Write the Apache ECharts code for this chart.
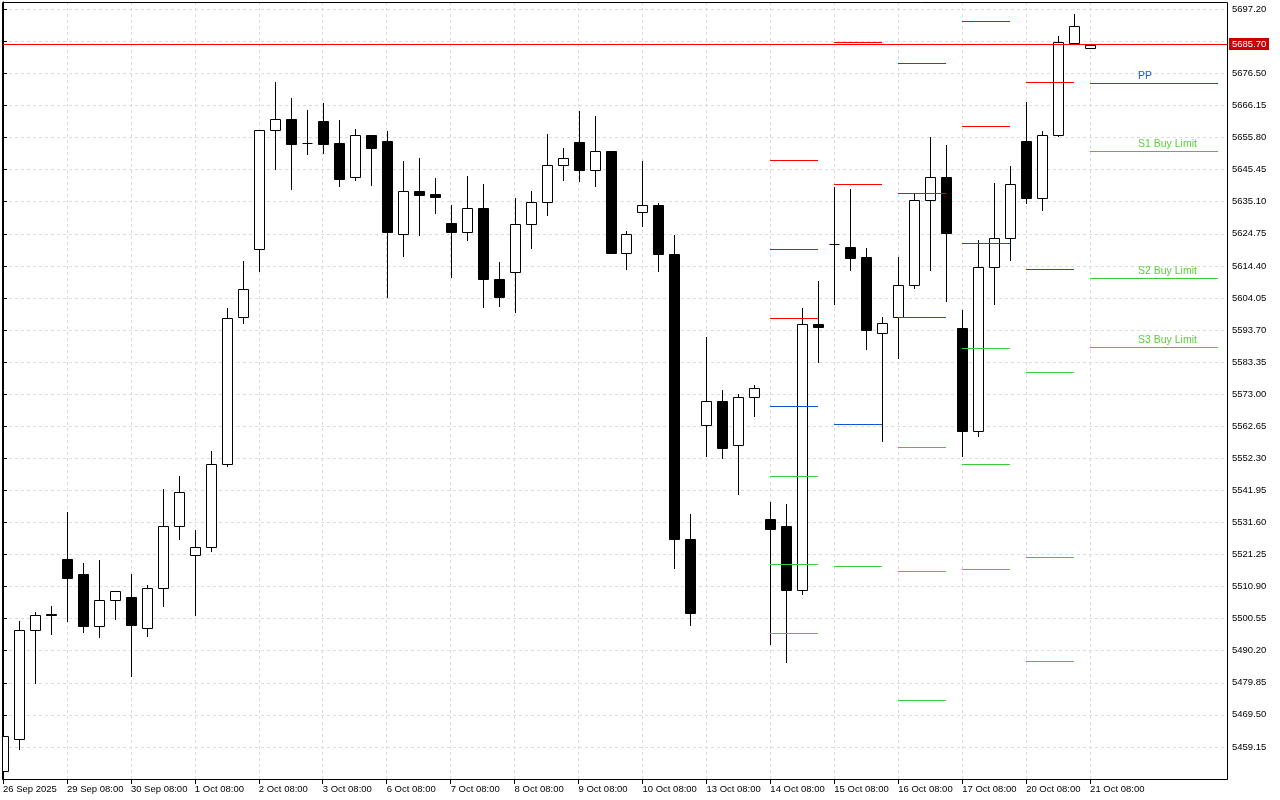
<!DOCTYPE html>
<html>
<head>
<meta charset="utf-8">
<script src="https://cdn.jsdelivr.net/npm/echarts@6.0.0/dist/echarts.min.js"></script>
<style>
html,body{margin:0;padding:0;background:#fff;}
#chart{width:1280px;height:800px;}
</style>
</head>
<body>
<div id="chart"></div>
<script>
// ---- Data ----
// Time labels, one every 4 bars (bar 0, 4, 8 ...)
const xTickLabels = ['26 Sep 2025','29 Sep 08:00','30 Sep 08:00','1 Oct 08:00','2 Oct 08:00','3 Oct 08:00',
  '6 Oct 08:00','7 Oct 08:00','8 Oct 08:00','9 Oct 08:00','10 Oct 08:00','13 Oct 08:00',
  '14 Oct 08:00','15 Oct 08:00','16 Oct 08:00','17 Oct 08:00','20 Oct 08:00','21 Oct 08:00'];
const barsPerLabel = 4;

const opens  = [5451.27,5461.73,5496.94,5502.04,5519.64,5514.80,5498.23,5506.50,5507.69,5497.58,
  5510.50,5530.40,5521.16,5523.74,5550.55,5597.81,5620.00,5658.11,5661.66,5654.01,
  5661.11,5654.01,5642.93,5656.49,5654.65,5624.71,5638.50,5637.44,5628.17,5625.49,
  5633.01,5610.31,5612.50,5627.94,5635.05,5646.96,5654.52,5645.38,5651.62,5618.61,
  5631.85,5634.17,5618.38,5526.36,5563.05,5570.84,5556.59,5572.16,5532.79,5530.53,
  5509.86,5595.54,5621.61,5620.64,5617.19,5592.86,5598.03,5608.37,5635.82,5642.93,
  5594.48,5561.08,5614.18,5623.55,5654.55,5636.34,5656.69,5686.40,5684.60];
const highs  = [5462.80,5499.94,5502.85,5504.78,5534.82,5518.35,5519.32,5509.53,5514.80,5511.47,
  5542.48,5546.45,5529.01,5554.53,5600.71,5615.89,5658.11,5673.61,5668.44,5664.66,
  5666.83,5661.43,5658.43,5656.49,5657.88,5648.19,5649.06,5642.70,5633.98,5643.35,
  5640.76,5615.57,5636.24,5638.41,5657.07,5652.29,5664.50,5662.63,5651.62,5625.71,
  5648.39,5634.85,5624.48,5534.47,5591.51,5574.49,5573.03,5576.04,5538.05,5537.41,
  5600.71,5609.43,5639.79,5639.15,5620.09,5597.81,5617.19,5637.95,5656.04,5653.36,
  5600.29,5622.90,5641.09,5646.58,5667.25,5657.88,5688.57,5695.67,5685.70];
const lows   = [5451.17,5458.50,5479.69,5495.51,5499.94,5496.16,5494.55,5500.36,5482.18,5495.09,
  5504.56,5526.20,5501.88,5522.32,5549.67,5595.87,5612.76,5645.71,5639.05,5650.55,
  5650.87,5640.21,5642.06,5640.44,5604.36,5617.61,5624.39,5631.49,5610.82,5622.68,
  5601.13,5601.46,5599.42,5620.06,5630.72,5642.06,5641.73,5640.05,5618.51,5613.28,
  5627.39,5612.60,5517.03,5498.45,5552.94,5552.49,5540.70,5565.83,5492.41,5486.47,
  5508.56,5583.37,5602.10,5613.08,5587.47,5557.85,5584.56,5607.27,5613.21,5603.07,
  5553.01,5559.47,5602.10,5616.31,5634.72,5632.37,5656.36,5686.40,5684.60];
const closes = [5462.80,5496.94,5501.78,5501.72,5513.60,5498.10,5506.63,5509.53,5498.55,5510.50,
  5530.53,5541.51,5523.74,5550.55,5597.71,5607.08,5658.11,5661.66,5653.78,5654.01,
  5653.78,5642.48,5656.49,5652.49,5625.26,5638.41,5637.31,5636.66,5625.26,5633.01,
  5610.18,5604.36,5628.01,5635.05,5647.06,5649.16,5645.29,5651.52,5618.51,5624.84,
  5634.05,5618.15,5526.13,5502.23,5570.84,5555.49,5572.03,5575.04,5529.43,5509.86,
  5595.54,5594.67,5621.61,5616.96,5593.70,5596.09,5608.37,5635.82,5642.93,5625.03,
  5561.08,5614.18,5623.55,5640.67,5636.34,5656.69,5686.53,5691.80,5685.70];

// Daily pivot levels (first / last bar of each day, null = off the chart)
const pivotStart = [48, 52, 56, 60, 64, 68];
const pivotEnd   = [51, 55, 59, 63, 67, 76];
const levelR3 = [5648.42, null,    null,    null,    null,    null];
const levelR2 = [5620.00, 5686.63, 5679.85, 5693.31, null,    null];
const levelR1 = [5597.71, 5640.67, 5638.08, 5659.40, 5673.71, null];
const levelPP = [5569.29, 5563.47, 5598.03, 5621.93, 5613.54, 5673.29];
const levelS1 = [5546.68, 5517.61, 5556.04, 5588.02, 5580.27, 5651.33];
const levelS2 = [5518.25, null,    5515.99, 5550.55, 5520.29, 5610.63];
const levelS3 = [5495.97, null,    5474.33, 5516.64, 5487.02, 5588.34];
const levelLabels = {PP: 'PP', S1: 'S1 Buy Limit', S2: 'S2 Buy Limit', S3: 'S3 Buy Limit'};

// ---- Styles ----
const RED = '#ff0000', BLUE = '#1450d2', GREEN = '#38cc38';
const FONT = '"Liberation Sans", Arial, sans-serif';
const levelDefs = [
  {name: 'R3', values: levelR3, color: RED,   text: RED},
  {name: 'R2', values: levelR2, color: RED,   text: RED},
  {name: 'R1', values: levelR1, color: RED,   text: RED},
  {name: 'PP', values: levelPP, color: BLUE,  text: '#1f5ce0'},
  {name: 'S1', values: levelS1, color: GREEN, text: '#5ccf3c'},
  {name: 'S2', values: levelS2, color: GREEN, text: '#5ccf3c'},
  {name: 'S3', values: levelS3, color: GREEN, text: '#5ccf3c'}
];
const labelOffsetBars = 3;

const candleData = opens.map((o, i) => [i, o, highs[i], lows[i], closes[i]]);
const pivotData = [];
levelDefs.forEach((d, k) => d.values.forEach((v, j) => {
  if (v != null) pivotData.push([pivotStart[j], pivotEnd[j], v, k, j]);
}));
const lastPrice = closes[closes.length - 1];
const xTickValues = xTickLabels.map((_, k) => k * barsPerLabel);

const chart = echarts.init(document.getElementById('chart'), null, {renderer: 'canvas'});
chart.setOption({
  animation: false,
  backgroundColor: '#fff',
  textStyle: {fontFamily: FONT},
  grid: {left: 2, right: 53, top: 2, bottom: 21, show: false},
  graphic: [{
    type: 'rect', z: 100, silent: true,
    shape: {x: 2.5, y: 2.5, width: 1225, height: 777},
    style: {fill: null, stroke: '#000', lineWidth: 1}
  }],
  xAxis: {
    type: 'value', min: 0, max: 1225 / 16, interval: 2,
    axisLine: {show: true, lineStyle: {color: '#000', width: 1}},
    axisTick: {show: true, customValues: xTickValues, length: 5, lineStyle: {color: '#000'}},
    axisLabel: {
      show: true, customValues: xTickValues, align: 'left', margin: 5,
      fontSize: 9.5, fontFamily: FONT, color: '#000',
      formatter: v => xTickLabels[Math.round(v / barsPerLabel)] || ''
    },
    splitLine: {show: true, lineStyle: {color: '#dcdcdc', width: 1, type: [3, 3]}}
  },
  yAxis: {
    type: 'value', position: 'right', min: 5448.80, max: 5699.56, interval: 10.35,
    axisLine: {show: true, lineStyle: {color: '#000', width: 1}},
    axisTick: {show: true, length: 4, lineStyle: {color: '#000'}},
    axisLabel: {
      show: true, margin: 5, fontSize: 9.5, fontFamily: FONT, color: '#000',
      showMinLabel: false, showMaxLabel: false,
      formatter: v => v.toFixed(2)
    },
    splitLine: {show: true, lineStyle: {color: '#dcdcdc', width: 1, type: [3, 3]}}
  },
  series: [
    {
      type: 'custom', name: 'US500', clip: true, z: 2,
      data: candleData,
      encode: {x: 0, y: [1, 2, 3, 4]},
      renderItem: function (params, api) {
        const i = api.value(0), o = api.value(1), h = api.value(2), l = api.value(3), c = api.value(4);
        const pO = api.coord([i, o]), pC = api.coord([i, c]), pH = api.coord([i, h]), pL = api.coord([i, l]);
        const x = Math.round(pO[0]) + 0.5;
        const yT = Math.round(Math.min(pO[1], pC[1]));
        const yB = Math.round(Math.max(pO[1], pC[1]));
        const children = [{
          type: 'line',
          shape: {x1: x, y1: Math.round(pH[1]), x2: x, y2: Math.round(pL[1]) + 1},
          style: {stroke: '#000', lineWidth: 1}
        }];
        if (yB - yT < 1) {
          children.push({type: 'line', shape: {x1: x - 5, y1: yT + 0.5, x2: x + 5, y2: yT + 0.5},
            style: {stroke: '#000', lineWidth: 1}});
        } else {
          children.push({type: 'rect', shape: {x: x - 5, y: yT + 0.5, width: 10, height: yB - yT},
            style: {fill: c < o ? '#000' : '#fff', stroke: '#000', lineWidth: 1}});
        }
        return {type: 'group', children: children};
      }
    },
    {
      type: 'custom', name: 'Pivots', clip: false, z: 3,
      data: pivotData,
      encode: {x: [0, 1], y: 2},
      renderItem: function (params, api) {
        const s = api.value(0), e = api.value(1), v = api.value(2), k = api.value(3), j = api.value(4);
        const a = api.coord([s, v]), b = api.coord([e, v]);
        const y = Math.round(a[1]) + 0.5;
        const def = levelDefs[k];
        const children = [{
          type: 'line', shape: {x1: Math.round(a[0]), y1: y, x2: Math.round(b[0]), y2: y},
          style: {stroke: def.color, lineWidth: 1}
        }];
        if (j === pivotStart.length - 1 && levelLabels[def.name]) {
          const t = api.coord([s + labelOffsetBars, v]);
          children.push({
            type: 'text', x: Math.round(t[0]), y: y - 2,
            style: {text: levelLabels[def.name], fill: def.text, font: '10.5px ' + FONT,
              align: 'left', verticalAlign: 'bottom'}
          });
        }
        return {type: 'group', children: children};
      }
    },
    {
      type: 'custom', name: 'Bid', clip: false, z: 4,
      data: [[0, lastPrice]],
      encode: {x: 0, y: 1},
      renderItem: function (params, api) {
        const cs = params.coordSys;
        const p = api.coord([api.value(0), api.value(1)]);
        const y = Math.floor(p[1]) + 0.5;
        const right = cs.x + cs.width;
        return {type: 'group', children: [
          {type: 'line', shape: {x1: cs.x, y1: y, x2: right, y2: y}, style: {stroke: RED, lineWidth: 1}},
          {type: 'rect', shape: {x: right + 2, y: y - 6.5, width: 40, height: 12}, style: {fill: '#cc0000'}},
          {type: 'text', x: right + 5, y: y, style: {text: api.value(1).toFixed(2), fill: '#fff',
            font: '9.5px ' + FONT, align: 'left', verticalAlign: 'middle'}}
        ]};
      }
    }
  ]
});
</script>
</body>
</html>
